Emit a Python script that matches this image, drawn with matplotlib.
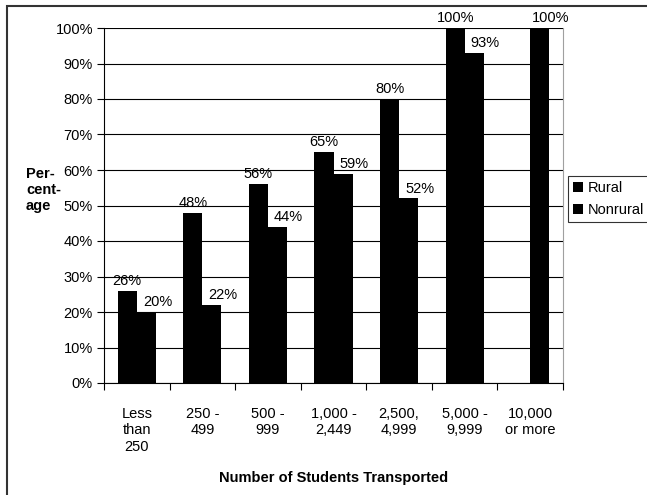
import matplotlib.pyplot as plt
import numpy as np
from matplotlib.patches import Rectangle

plt.rcParams["font.family"] = ["Liberation Sans", "DejaVu Sans"]

categories = ["Less\nthan\n250", "250 -\n499", "500 -\n999", "1,000 -\n2,449",
              "2,500,\n4,999", "5,000 -\n9,999", "10,000\nor more"]
rural = [26, 48, 56, 65, 80, 100, np.nan]
nonrural = [20, 22, 44, 59, 52, 93, 100]
yticks = [0, 10, 20, 30, 40, 50, 60, 70, 80, 90, 100]

fs = 10.5

fig = plt.figure(figsize=(6.47, 4.95), dpi=100)
ax = fig.add_axes([104 / 647, 1 - 383 / 495, 459 / 647, 355 / 495])

x = np.arange(len(categories))
width = 0.29

ax.bar(x - width / 2, rural, width, color="black", label="Rural", zorder=3)
ax.bar(x + width / 2, nonrural, width, color="black", label="Nonrural", zorder=3)

for i in range(len(categories)):
    if not np.isnan(rural[i]):
        ax.text(x[i] - width / 2, rural[i] + 0.8, f"{rural[i]:.0f}%",
                ha="center", va="bottom", fontsize=fs)
    ax.text(x[i] + width / 2 + 0.17, nonrural[i] + 0.8, f"{nonrural[i]:.0f}%",
            ha="center", va="bottom", fontsize=fs)

ax.set_xlim(-0.5, len(categories) - 0.5)
ax.set_ylim(0, 100)
ax.set_yticks(yticks)
ax.set_yticklabels([f"{v}%" for v in yticks], fontsize=fs)
ax.yaxis.grid(True, color="black", linewidth=0.8, zorder=0)

# category labels between boundary ticks
ax.set_xticks(np.arange(len(categories) + 1) - 0.5)
ax.set_xticklabels([])
ax.set_xticks(x, minor=True)
ax.set_xticklabels(categories, minor=True, fontsize=fs, linespacing=1.25)
ax.tick_params(axis="x", which="minor", length=0, pad=17)
ax.tick_params(axis="x", which="major", length=5, direction="out")
ax.tick_params(axis="y", length=5, direction="out", pad=3)

ax.spines["top"].set_visible(False)
ax.spines["right"].set_color("#a0a0a0")
ax.spines["left"].set_linewidth(0.8)
ax.spines["bottom"].set_linewidth(0.8)

ax.set_xlabel("Number of Students Transported", fontsize=fs,
              fontweight="bold", labelpad=12)
fig.text(26 / 647, 1 - 190 / 495, "Per-\ncent-\nage", fontsize=fs,
         fontweight="bold", ha="left", va="center", linespacing=1.15)

leg = fig.legend(loc="upper left", bbox_to_anchor=(568 / 647, 1 - 176 / 495),
                 fontsize=fs, frameon=True, fancybox=False, handlelength=0.7,
                 handleheight=0.7, handletextpad=0.3, borderpad=0.35,
                 labelspacing=0.55, borderaxespad=0)
leg.get_frame().set_edgecolor("black")
leg.get_frame().set_linewidth(0.8)

fig.patches.append(Rectangle((7 / 647, -0.1), 1.2, 1 - 6 / 495 + 0.1,
                             transform=fig.transFigure, fill=False,
                             edgecolor="#333333", linewidth=1.5))

fig.savefig("out.png", dpi=100)
